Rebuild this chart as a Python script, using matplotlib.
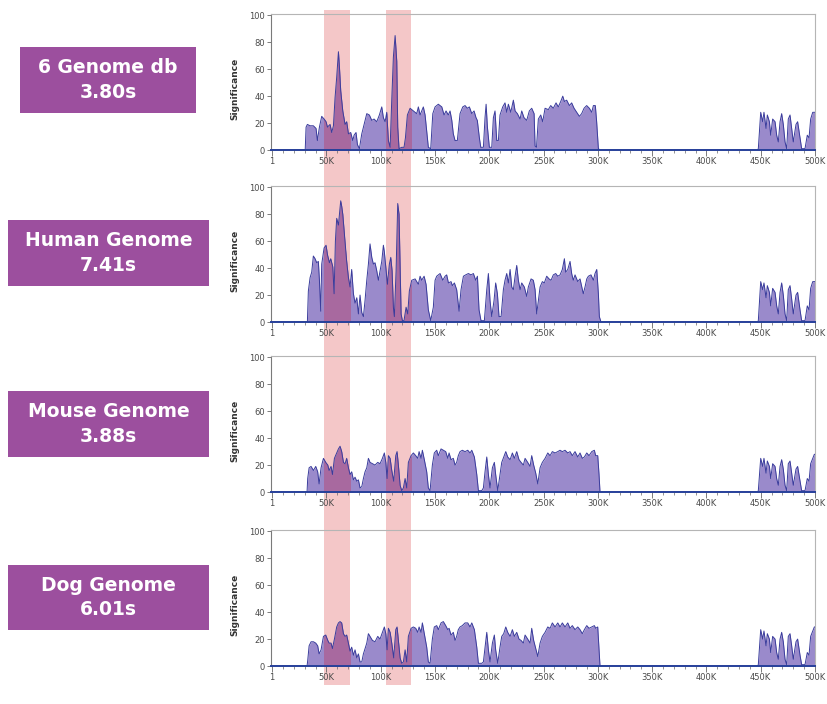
import matplotlib
matplotlib.use("Agg")
import matplotlib.pyplot as plt
from matplotlib.patches import Rectangle
from matplotlib.transforms import blended_transform_factory
from matplotlib.ticker import MultipleLocator

# ---------------- data (positions in kb, significance values) ----------------
panel_titles = ["6 Genome db\n3.80s", "Human Genome\n7.41s",
                "Mouse Genome\n3.88s", "Dog Genome\n6.01s"]

tick_values = [0, 50, 100, 150, 200, 250, 300, 350, 400, 450, 500]
tick_labels = ["1", "50K", "100K", "150K", "200K", "250K", "300K",
               "350K", "400K", "450K", "500K"]
ytick_values = [0, 20, 40, 60, 80, 100]

band_ranges = [(48.2, 71.8), (104.7, 128.0)]

p1_pos = [0, 30.5, 31.3, 32.5, 35.0, 38.0, 40.5, 41.7, 43.6, 45.7,
          47.9, 49.7, 51.0, 53.4, 54.9, 56.5, 58.0, 59.5, 61.1, 62.0,
          63.2, 65.1, 67.2, 68.7, 70.3, 72.4, 74.3, 75.5, 77.3, 78.6,
          80.4, 82.6, 84.7, 87.2, 89.6, 91.8, 93.9, 96.4, 98.8, 101.0,
          102.5, 104.1, 105.6, 107.1, 108.7, 110.2, 111.7, 113.3, 114.8, 115.7,
          116.9, 119.4, 121.5, 122.8, 124.6, 127.1, 130.1, 133.2, 134.7, 136.3,
          137.8, 139.3, 140.9, 142.4, 143.9, 146.1, 148.0, 150.1, 153.1, 156.3,
          158.4, 160.2, 162.3, 163.9, 165.5, 166.9, 168.5, 170.6, 173.1, 175.6,
          177.7, 179.8, 181.7, 183.9, 186.0, 187.8, 189.0, 190.9, 192.2, 194.6,
          196.1, 197.1, 198.3, 200.1, 202.3, 203.8, 205.3, 206.9, 208.4, 209.9,
          212.4, 214.5, 216.1, 217.6, 219.8, 222.2, 223.8, 225.9, 228.4, 229.9,
          232.0, 234.5, 236.9, 239.1, 241.3, 242.2, 243.5, 245.2, 247.4, 249.2,
          251.4, 254.4, 256.6, 259.0, 261.5, 263.6, 265.8, 267.7, 269.2, 271.3,
          273.8, 275.9, 278.1, 280.5, 283.0, 285.1, 287.3, 289.7, 292.2, 294.4,
          295.9, 297.7, 298.9, 300.5, 302.0, 447.0]
p1_val = [0, 0, 17, 19, 18, 18, 16, 7, 17, 25,
          23, 21, 17, 19, 13, 18, 39, 54, 73, 62,
          44, 29, 19, 21, 12, 13, 7, 11, 13, 4,
          1, 12, 19, 27, 26, 22, 23, 21, 26, 32,
          24, 21, 28, 7, 2, 37, 69, 85, 66, 17,
          1, 2, 2, 9, 26, 31, 29, 27, 32, 26,
          29, 32, 26, 14, 2, 1, 27, 32, 34, 32,
          26, 29, 26, 29, 22, 12, 7, 7, 27, 32,
          33, 31, 32, 27, 29, 24, 22, 9, 2, 2,
          24, 34, 17, 2, 2, 24, 29, 7, 7, 26,
          32, 35, 28, 34, 28, 37, 29, 27, 23, 29,
          24, 22, 29, 31, 27, 3, 2, 23, 26, 21,
          31, 30, 33, 31, 35, 32, 36, 40, 36, 37,
          33, 35, 31, 28, 25, 27, 31, 33, 31, 28,
          33, 33, 21, 1, 0, 0]

p2_pos = [0, 32.5, 33.4, 35.0, 36.5, 38.0, 39.6, 41.1, 42.6, 43.6,
          44.8, 45.7, 47.9, 49.7, 51.0, 52.8, 54.0, 55.9, 57.1, 58.3,
          59.5, 61.1, 62.0, 63.2, 64.1, 65.1, 66.3, 67.5, 68.7, 70.3,
          71.8, 73.3, 74.9, 76.4, 78.0, 79.5, 81.0, 82.6, 84.1, 85.6,
          87.2, 88.7, 90.2, 91.8, 93.3, 94.8, 96.4, 97.9, 99.4, 101.0,
          102.5, 103.4, 104.7, 106.2, 108.0, 109.3, 110.5, 111.7, 112.6, 114.2,
          115.7, 116.9, 117.9, 118.8, 120.0, 121.5, 123.4, 124.9, 126.4, 128.6,
          131.7, 134.7, 136.3, 137.8, 140.0, 141.8, 143.9, 146.1, 148.5, 150.1,
          151.6, 154.7, 157.2, 159.3, 160.8, 162.4, 164.8, 166.0, 167.9, 170.0,
          172.2, 174.0, 176.2, 178.3, 180.8, 183.2, 185.4, 187.5, 189.1, 190.6,
          192.4, 195.5, 197.7, 199.2, 200.7, 202.3, 204.4, 205.9, 207.5, 209.0,
          210.9, 213.0, 214.5, 216.1, 217.6, 219.2, 220.7, 222.2, 223.8, 225.3,
          226.8, 228.4, 229.9, 232.3, 234.5, 236.0, 238.5, 240.6, 242.2, 243.7,
          245.2, 246.8, 248.9, 250.7, 252.9, 255.1, 256.9, 259.0, 261.2, 263.1,
          265.2, 267.3, 269.2, 270.4, 272.3, 274.4, 275.9, 277.4, 279.0, 281.5,
          283.6, 285.2, 286.6, 288.2, 289.8, 291.3, 293.7, 295.9, 297.4, 299.0,
          300.5, 301.4, 302.9, 447.0]
p2_val = [0, 0, 23, 33, 37, 49, 47, 44, 45, 31,
          8, 43, 55, 57, 50, 44, 47, 41, 21, 60,
          77, 72, 80, 90, 86, 80, 68, 55, 45, 33,
          26, 39, 21, 14, 18, 6, 20, 7, 4, 16,
          31, 43, 58, 48, 43, 44, 38, 31, 38, 45,
          57, 52, 41, 28, 43, 48, 38, 11, 4, 38,
          88, 80, 43, 6, 1, 1, 11, 6, 23, 31,
          32, 28, 34, 31, 34, 28, 9, 1, 11, 31,
          34, 36, 31, 34, 35, 29, 30, 27, 29, 24,
          8, 24, 34, 35, 36, 35, 36, 31, 34, 9,
          1, 1, 24, 36, 16, 4, 16, 29, 21, 4,
          4, 24, 31, 36, 29, 39, 26, 24, 34, 42,
          31, 24, 29, 26, 19, 26, 32, 31, 24, 6,
          16, 26, 30, 29, 34, 32, 31, 35, 36, 34,
          35, 39, 47, 37, 39, 45, 36, 31, 35, 30,
          32, 26, 21, 26, 32, 34, 35, 31, 36, 39,
          21, 4, 0, 0]

p34_pos = [0, 32.2, 32.8, 34.1, 35.9, 38.1, 40.2, 42.0, 43.3, 45.1,
           47.3, 49.4, 51.3, 52.5, 54.3, 55.6, 57.4, 59.5, 61.1, 62.6,
           64.1, 65.7, 67.2, 68.7, 70.3, 71.8, 73.3, 74.9, 76.4, 78.0,
           79.5, 81.0, 82.6, 84.1, 85.6, 87.2, 88.7, 90.2, 92.4, 94.8,
           97.3, 99.4, 101.6, 103.4, 104.7, 105.9, 107.1, 108.7, 110.2, 112.0,
           113.9, 115.1, 116.3, 117.9, 119.4, 120.9, 122.5, 124.0, 125.5, 128.0,
           130.1, 132.3, 134.1, 135.4, 137.2, 138.4, 140.2, 142.4, 143.9, 145.5,
           147.6, 149.4, 151.6, 153.1, 155.6, 157.7, 159.9, 161.8, 163.0, 164.8,
           166.9, 168.5, 170.0, 171.5, 173.1, 175.2, 177.7, 180.2, 182.3, 183.9,
           186.3, 188.5, 190.0, 193.1, 194.6, 196.1, 197.7, 199.2, 200.7, 202.9,
           204.7, 205.9, 207.8, 209.9, 211.5, 213.3, 215.2, 217.0, 219.2, 221.3,
           223.1, 225.3, 227.4, 229.3, 231.4, 233.0, 235.4, 237.6, 239.1, 240.9,
           242.8, 244.7, 246.8, 248.9, 251.4, 253.9, 256.0, 258.1, 260.6, 263.1,
           265.2, 267.3, 269.8, 272.3, 274.4, 276.5, 279.0, 281.5, 283.6, 285.7,
           287.6, 289.8, 291.9, 294.4, 296.8, 298.0, 299.9, 301.1, 302.0, 447.0]
p3_val = [0, 0, 10, 18, 19, 16, 19, 15, 6, 18,
          25, 22, 20, 16, 19, 13, 25, 29, 32, 34,
          30, 22, 21, 25, 18, 13, 15, 9, 11, 8,
          9, 3, 4, 10, 15, 18, 25, 22, 21, 20,
          22, 21, 25, 29, 22, 10, 27, 25, 16, 8,
          27, 30, 20, 5, 1, 3, 10, 3, 22, 27,
          29, 27, 25, 30, 25, 31, 24, 15, 3, 1,
          20, 29, 31, 27, 32, 31, 30, 25, 29, 24,
          25, 20, 22, 27, 30, 31, 30, 31, 29, 31,
          26, 13, 1, 1, 3, 15, 26, 13, 3, 18,
          22, 13, 1, 13, 22, 26, 30, 26, 24, 29,
          25, 30, 24, 22, 20, 25, 22, 19, 27, 20,
          14, 6, 18, 22, 25, 29, 27, 30, 29, 30,
          31, 30, 31, 29, 30, 27, 30, 26, 29, 25,
          26, 29, 27, 30, 31, 27, 27, 13, 0, 0]
p4_val = [0, 0, 4, 15, 18, 18, 17, 15, 9, 12,
          22, 23, 19, 17, 17, 13, 20, 29, 32, 33,
          32, 24, 22, 23, 17, 11, 14, 8, 12, 6,
          9, 3, 3, 9, 13, 17, 24, 22, 19, 18,
          22, 20, 25, 29, 24, 12, 28, 25, 17, 6,
          27, 29, 19, 6, 2, 3, 12, 3, 22, 28,
          29, 28, 25, 29, 25, 32, 24, 14, 3, 2,
          20, 29, 30, 27, 32, 33, 30, 27, 28, 23,
          25, 19, 22, 27, 29, 30, 32, 32, 29, 32,
          27, 14, 2, 2, 3, 14, 25, 12, 3, 17,
          23, 12, 2, 14, 22, 24, 29, 25, 22, 27,
          22, 25, 20, 19, 17, 23, 20, 17, 28, 19,
          13, 7, 17, 22, 25, 29, 28, 32, 29, 32,
          29, 32, 29, 32, 28, 30, 27, 29, 27, 24,
          27, 30, 28, 29, 30, 28, 29, 12, 0, 0]

right_pos = [447.8, 450.0, 451.8, 453.0, 454.9, 456.1, 458.0, 459.2, 461.0, 463.2,
             464.7, 466.2, 467.8, 469.3, 470.8, 472.4, 473.9, 475.4, 477.0, 478.5,
             480.0, 482.5, 484.0, 486.2, 487.7, 490.8, 492.9, 494.5, 496.0, 497.9,
             499.4, 501.0]
p1_right = [1, 28, 21, 28, 16, 26, 21, 11, 23, 21, 11, 6, 21, 27, 19, 6, 1, 23,
            26, 16, 6, 19, 21, 9, 1, 1, 11, 9, 23, 28, 28, 28]
p2_right = [1, 30, 24, 29, 18, 27, 22, 12, 25, 22, 12, 6, 22, 29, 20, 6, 1, 24,
            27, 17, 6, 20, 22, 9, 1, 1, 12, 9, 25, 30, 30, 30]
p3_right = [1, 25, 19, 25, 14, 23, 19, 10, 21, 19, 10, 5, 19, 24, 17, 5, 1, 21,
            23, 14, 5, 17, 19, 8, 1, 1, 10, 8, 21, 25, 28, 28]
p4_right = [1, 27, 20, 26, 15, 24, 20, 10, 22, 20, 10, 5, 20, 25, 18, 5, 1, 22,
            24, 15, 5, 18, 20, 8, 1, 1, 10, 8, 22, 26, 29, 29]

series = [
    (p1_pos + right_pos, p1_val + p1_right),
    (p2_pos + right_pos, p2_val + p2_right),
    (p34_pos + right_pos, p3_val + p3_right),
    (p34_pos + right_pos, p4_val + p4_right),
]

# ---------------- layout / style ----------------
W, H = 827, 704
fig = plt.figure(figsize=(W / 100, H / 100), dpi=100)
fig.patch.set_facecolor("white")

AX_L, AX_R = 271, 815
panel_px = [(14, 150), (186, 322), (356, 492), (530, 666)]
box_px = [(20, 47, 196, 113), (8, 220, 209, 286), (8, 391, 209, 457), (8, 565, 209, 630)]
BAND_TOP, BAND_BOT = 10, 685

fill_c = "#9a8acb"
line_c = "#3a3c9c"
band_c = "#f4c7c8"
band_over_c = "#a8699f"
box_c = "#9c4f9e"

axes = []
for (top, bot), (xs, ys) in zip(panel_px, series):
    ax = fig.add_axes([AX_L / W, 1 - bot / H, (AX_R - AX_L) / W, (bot - top) / H])
    ax.patch.set_alpha(0)
    ax.fill_between(xs, ys, 0, color=fill_c, lw=0, zorder=2)
    bt = blended_transform_factory(ax.transData, ax.transAxes)
    for b0, b1 in band_ranges:
        over = ax.fill_between(xs, ys, 0, color=band_over_c, lw=0, zorder=2.1)
        clip = Rectangle((b0, 0), b1 - b0, 1, transform=bt)
        over.set_clip_path(clip)
    ax.plot(xs, ys, color=line_c, lw=0.7, zorder=3)
    ax.set_xlim(-1, 500)
    ax.set_ylim(0, 101)
    ax.set_xticks(tick_values)
    ax.set_xticklabels(tick_labels)
    ax.xaxis.set_minor_locator(MultipleLocator(10))
    ax.set_yticks(ytick_values)
    ax.tick_params(axis="both", which="major", labelsize=6, labelcolor="#4a4a4a",
                   color="#666666", length=3, width=0.6, pad=1.2)
    ax.tick_params(axis="x", which="minor", color="#666666", length=2, width=0.5)
    ax.tick_params(axis="x", which="major", length=4)
    for s in ("top", "right"):
        ax.spines[s].set_color("#b5b5b5")
        ax.spines[s].set_linewidth(0.8)
    ax.spines["left"].set_color("#7a7a7a")
    ax.spines["left"].set_linewidth(0.8)
    ax.spines["bottom"].set_color("#27409a")
    ax.spines["bottom"].set_linewidth(1.4)
    ax.spines["bottom"].set_zorder(4)
    ax.set_ylabel("Significance", fontsize=6.5, fontweight="bold", color="#333333")
    ax.yaxis.set_label_coords(-0.058, 0.45)
    axes.append(ax)

# red highlight bands running through all panels
bt_fig = blended_transform_factory(axes[0].transData, fig.transFigure)
for b0, b1 in band_ranges:
    fig.add_artist(Rectangle((b0, 1 - BAND_BOT / H), b1 - b0, (BAND_BOT - BAND_TOP) / H,
                             transform=bt_fig, facecolor=band_c, edgecolor="none",
                             zorder=-1))

# purple label boxes
for (x0, y0, x1, y1), title in zip(box_px, panel_titles):
    fig.add_artist(Rectangle((x0 / W, 1 - y1 / H), (x1 - x0) / W, (y1 - y0) / H,
                             transform=fig.transFigure, facecolor=box_c,
                             edgecolor="none", zorder=1))
    fig.text((x0 + x1) / 2 / W, 1 - (y0 + y1) / 2 / H, title, ha="center", va="center",
             color="white", fontsize=13.5, fontweight="bold", linespacing=1.35,
             family=["DejaVu Sans"], zorder=2)

fig.savefig("out.png", dpi=100)
